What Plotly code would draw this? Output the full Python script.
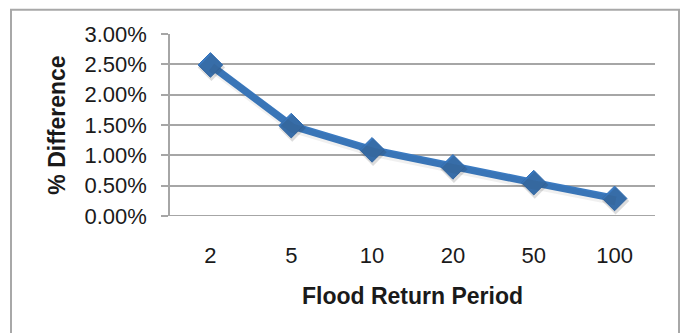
import plotly.graph_objects as go

# Flood return period (years) and percent difference between methods
return_periods = ["2", "5", "10", "20", "50", "100"]
pct_difference = [0.0249, 0.0149, 0.0109, 0.0081, 0.0055, 0.0029]

y_ticks = [0, 0.005, 0.01, 0.015, 0.02, 0.025, 0.03]

W, H = 684, 333
L, R, T, B = 170, 29, 33.5, 116.5
PW, PH = W - L - R, H - T - B

line_blue = "#3b7bc2"
grid_gray = "#a6a6a6"
font_family = "Liberation Sans, Arial, Helvetica, sans-serif"

Y_RANGE = [0, 0.03]
X_RANGE = [-0.5, 5.5]
# soft drop shadow drawn on overlaid axes nudged a few pixels down/right
sh_dy = 2.5 / PH * (Y_RANGE[1] - Y_RANGE[0])
sh_dx = 1.0 / PW * (X_RANGE[1] - X_RANGE[0])

fig = go.Figure()
fig.add_trace(go.Scatter(
    x=return_periods, y=pct_difference,
    xaxis="x2", yaxis="y2",
    mode="lines+markers",
    line=dict(color="rgba(40,40,40,0.07)", width=9),
    marker=dict(symbol="diamond", size=21, color="rgba(40,40,40,0.16)"),
    showlegend=False, hoverinfo="skip",
))
fig.add_trace(go.Scatter(
    x=return_periods,
    y=pct_difference,
    mode="lines+markers",
    line=dict(color=line_blue, width=7.5),
    marker=dict(symbol="diamond", size=19, color=line_blue,
                line=dict(color="#3572b8", width=1)),
    showlegend=False,
    hoverinfo="x+y",
))

fig.update_layout(
    width=W, height=H,
    margin=dict(l=L, r=R, t=T, b=B, pad=0),
    paper_bgcolor="white",
    plot_bgcolor="white",
    font=dict(family=font_family, color="#1a1a1a"),
    xaxis=dict(
        type="category",
        range=X_RANGE,
        showgrid=False,
        showline=False,
        ticks="",
        tickfont=dict(size=22, color="#1a1a1a"),
        ticklabelstandoff=24,
        title=dict(text="<b>Flood Return Period</b>",
                   font=dict(size=23, color="#1a1a1a"), standoff=20),
        zeroline=False,
    ),
    xaxis2=dict(
        type="category", overlaying="x",
        range=[X_RANGE[0] - sh_dx, X_RANGE[1] - sh_dx],
        visible=False,
    ),
    yaxis=dict(
        range=Y_RANGE,
        tickvals=y_ticks,
        tickformat=".2%",
        showgrid=True,
        gridcolor=grid_gray,
        gridwidth=1.5,
        showline=True,
        linecolor=grid_gray,
        linewidth=1.5,
        ticks="outside",
        ticklen=7,
        tickwidth=1.5,
        tickcolor=grid_gray,
        tickfont=dict(size=22, color="#1a1a1a"),
        ticklabelstandoff=10,
        title=dict(text="<b>% Difference</b>",
                   font=dict(size=23, color="#1a1a1a"), standoff=12),
        zeroline=False,
    ),
    yaxis2=dict(
        overlaying="y",
        range=[Y_RANGE[0] + sh_dy, Y_RANGE[1] + sh_dy],
        visible=False,
    ),
    shapes=[
        # outer chart frame
        dict(type="rect", xref="paper", yref="paper",
             x0=(11 - L) / PW, x1=(679 - L) / PW,
             y0=(H - B - 345) / PH, y1=(H - B - 9) / PH,
             line=dict(color="#a8a8a8", width=2), layer="below"),
        # baseline at 0%
        dict(type="line", xref="paper", yref="y",
             x0=-7 / PW, x1=1, y0=0, y1=0,
             line=dict(color=grid_gray, width=2), layer="below"),
    ],
)

fig.write_html("out.html")
